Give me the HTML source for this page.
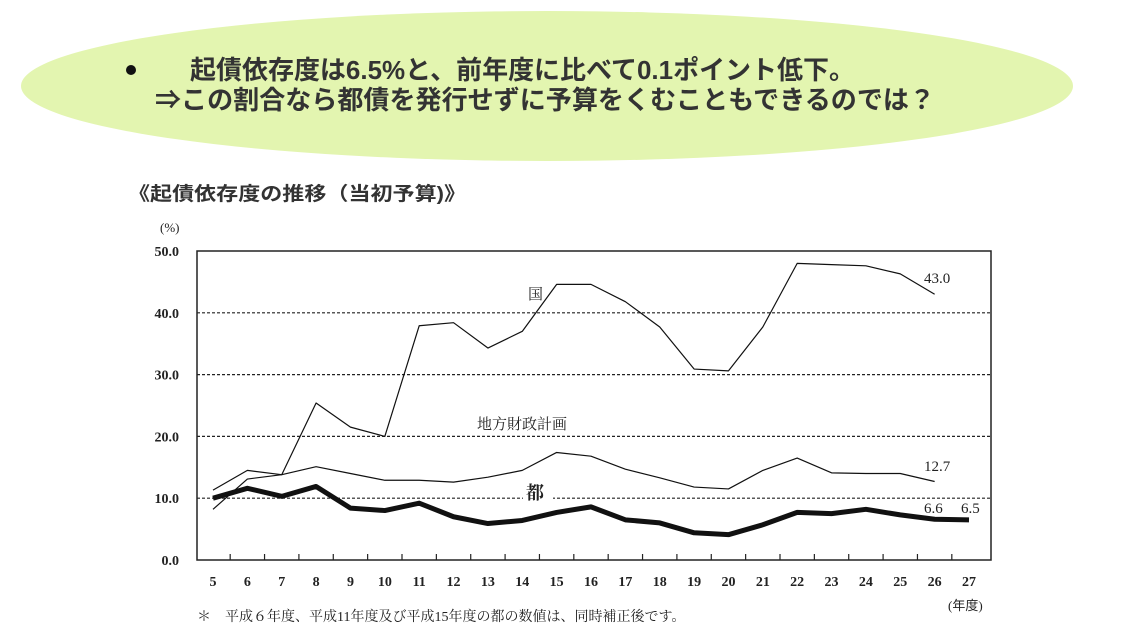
<!DOCTYPE html>
<html><head><meta charset="utf-8"><style>
html,body{margin:0;padding:0;background:#fff;}
svg{display:block;}
</style></head><body>
<svg width="1136" height="640" viewBox="0 0 1136 640" xmlns="http://www.w3.org/2000/svg" font-family="'Liberation Serif','Noto Serif CJK SC',serif">
<ellipse cx="547" cy="86" rx="526" ry="75" fill="#e3f5b0"/>
<circle cx="131" cy="70" r="5" fill="#111"/>
<text x="190" y="79" font-size="26" font-weight="bold" fill="#333" textLength="665" lengthAdjust="spacingAndGlyphs" font-family="'Liberation Sans','Noto Sans CJK JP',sans-serif">起債依存度は6.5%と、前年度に比べて0.1ポイント低下。</text>
<text x="155" y="109" font-size="26" font-weight="bold" fill="#333" textLength="780" lengthAdjust="spacingAndGlyphs" font-family="'Liberation Sans','Noto Sans CJK JP',sans-serif">⇒この割合なら都債を発行せずに予算をくむこともできるのでは？</text>
<text x="128" y="200" font-size="19" font-weight="bold" fill="#333" textLength="338" lengthAdjust="spacingAndGlyphs" font-family="'Liberation Sans','Noto Sans CJK JP',sans-serif">《起債依存度の推移（当初予算)》</text>
<text x="160" y="232" font-size="13" fill="#222">(%)</text>
<text x="948" y="610" font-size="13" fill="#222" font-family="'Liberation Serif','Noto Sans CJK JP',serif">(年度)</text>
<text x="197" y="621" font-size="14" fill="#222" font-family="'Liberation Serif','Noto Serif CJK SC',serif">＊　平成６年度、平成11年度及び平成15年度の都の数値は、同時補正後です。</text>
<g id="chart"></g>
</svg>
<script>
const years = [5,6,7,8,9,10,11,12,13,14,15,16,17,18,19,20,21,22,23,24,25,26,27];
const yTicks = [0,10,20,30,40,50];
const kuni = [8.2,13.1,13.8,25.4,21.5,20.0,37.9,38.4,34.3,37.0,44.6,44.6,41.8,37.7,30.9,30.6,37.7,48.0,47.8,47.6,46.3,43.0];
const chiho = [11.3,14.5,13.8,15.1,14.0,12.9,12.9,12.6,13.4,14.5,17.4,16.8,14.7,13.3,11.8,11.5,14.5,16.5,14.1,14.0,14.0,12.7];
const to = [10.0,11.6,10.3,11.9,8.4,8.0,9.2,7.0,5.9,6.4,7.7,8.6,6.5,6.0,4.4,4.1,5.7,7.7,7.5,8.2,7.3,6.6,6.5];
const NS='http://www.w3.org/2000/svg';
const g=document.getElementById('chart');
const L=197,R=991,T=251,B=560;
const x=i=>213+i*(969-213)/(years.length-1);
const y=v=>B-(v/50)*(B-T);
function mk(t,a){const e=document.createElementNS(NS,t);for(const k in a)e.setAttribute(k,a[k]);g.appendChild(e);return e;}
yTicks.forEach(v=>{
  if(v>0&&v<50){const l=mk('line',{x1:L,x2:R,y1:y(v),y2:y(v),stroke:'#222','stroke-width':1.2,'stroke-dasharray':'3,2'});
  
  }
  const t=mk('text',{x:179,y:y(v)+5,'font-size':14,'font-weight':'bold','text-anchor':'end',fill:'#222'});
  t.textContent=v.toFixed(1);
  
  
});
const fr=mk('rect',{x:L,y:T,width:R-L,height:B-T,fill:'none',stroke:'#222','stroke-width':1.5});


years.forEach((yr,i)=>{
  if(i<years.length-1){const tk=mk('line',{x1:(x(i)+x(i+1))/2,x2:(x(i)+x(i+1))/2,y1:B,y2:B-6,stroke:'#222','stroke-width':1.2});
  
  }
  const t=mk('text',{x:x(i),y:586,'font-size':14,'font-weight':'bold','text-anchor':'middle',fill:'#222'});
  t.textContent=yr;
  
  
});
function line(data,w,name){
  const p=mk('polyline',{points:data.map((v,i)=>x(i)+','+y(v)).join(' '),fill:'none',stroke:'#111','stroke-width':w,'stroke-linejoin':'round'});
  
  
}
line(kuni,1.2,'series-kuni');
line(chiho,1.2,'series-chiho');
line(to,5,'series-to');
function lab(txt,xx,yy,name,fs,bold){
  const t=mk('text',{x:xx,y:yy,'font-size':fs,fill:'#222','font-weight':bold?'bold':'normal'});
  t.textContent=txt;
  
  
}
lab('国',528,299,'label-kuni',15);
lab('地方財政計画',477,429,'label-chiho',15);
const bg=mk('rect',{x:523,y:482,width:30,height:20,fill:'#fff'});


lab('都',526,499,'label-to',18,true);
lab(kuni[kuni.length-1].toFixed(1),924,283,'value-kuni-last',15);
lab(chiho[chiho.length-1].toFixed(1),924,471,'value-chiho-last',15);
lab(to[to.length-2].toFixed(1),924,513,'value-to-26',15);
lab(to[to.length-1].toFixed(1),961,513,'value-to-27',15);
</script>
</body></html>
